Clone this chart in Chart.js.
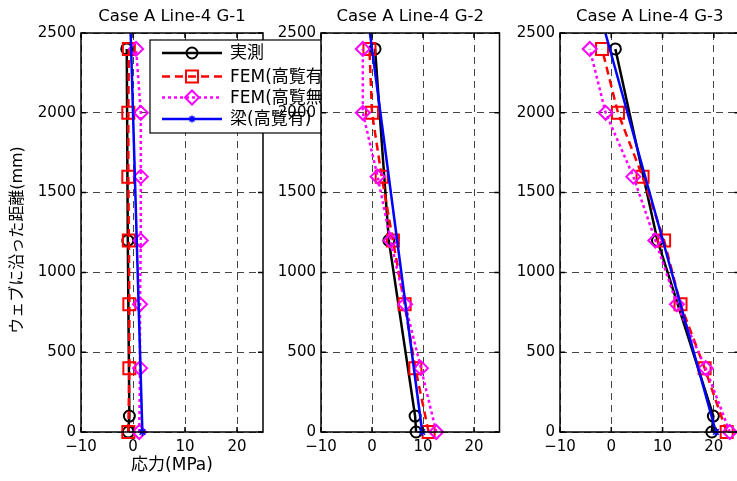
<!DOCTYPE html>
<html>
<head>
<meta charset="utf-8">
<script src="https://cdn.jsdelivr.net/npm/chart.js@4/dist/chart.umd.min.js"></script>
<style>
  html, body { margin: 0; padding: 0; background: #fff; overflow: hidden; }
  #wrap { position: relative; width: 737px; height: 481px; overflow: hidden; }
  #wrap canvas { position: absolute; top: 0; }
</style>
</head>
<body>
<div id="wrap">
  <canvas id="g1" width="345" height="481" style="left:0px"></canvas>
  <canvas id="g2" width="260" height="481" style="left:250px"></canvas>
  <canvas id="g3" width="260" height="481" style="left:490px"></canvas>
</div>
<script>
// ---- data ----
const panelTitles = ['Case A Line-4 G-1', 'Case A Line-4 G-2', 'Case A Line-4 G-3'];
const seriesNames = ['実測', 'FEM(高覧有)', 'FEM(高覧無)', '梁(高覧有)'];
const xAxisTitle = '応力(MPa)';
const yAxisTitle = 'ウェブに沿った距離(mm)';
const xTickValues = [-10, 0, 10, 20];
const yTickValues = [0, 500, 1000, 1500, 2000, 2500];

// heights along the web (mm)
const heightsMeasured = [0, 100, 1200, 2400];
const heightsFem = [0, 400, 800, 1200, 1600, 2000, 2400];
const heightsBeam = [0, 2500];

// stress (MPa), G-1
const measuredG1 = [-0.9, -0.7, -1.0, -1.2];
const femWithG1 = [-0.9, -0.7, -0.7, -0.8, -0.9, -0.9, -0.8];
const femWithoutG1 = [1.2, 1.35, 1.35, 1.5, 1.5, 1.5, 0.6];
const beamG1 = [1.8, -0.45];

// stress (MPa), G-2
const measuredG2 = [8.65, 8.45, 3.3, 0.6];
const femWithG2 = [11.1, 8.5, 6.4, 4.1, 1.9, 0.0, -0.5];
const femWithoutG2 = [12.6, 9.6, 6.5, 3.65, 1.1, -1.8, -1.8];
const beamG2 = [9.85, -0.4];

// stress (MPa), G-3
const measuredG3 = [19.6, 19.9, 9.0, 0.8];
const femWithG3 = [22.5, 18.2, 13.5, 10.3, 6.1, 1.3, -1.8];
const femWithoutG3 = [23.1, 18.4, 12.8, 8.6, 4.3, -1.1, -4.2];
const beamG3 = [20.4, -1.15];

// ---- styles ----
const FONT = '"DejaVu Sans", "Noto Sans CJK JP", sans-serif';
const seriesStyles = [
  { color: '#000000', dash: [],     pointStyle: 'circle',  radius: 5.5, width: 2.5, pointWidth: 2 },
  { color: '#ff0000', dash: [8, 5], pointStyle: 'rect',    radius: 8.5, width: 2.5, pointWidth: 2 },
  { color: '#ff00ff', dash: [3, 3], pointStyle: 'rectRot', radius: 7,   width: 2.5, pointWidth: 2 },
  { color: '#0000ff', dash: [],     pointStyle: 'star',    radius: 4,   width: 2.5, pointWidth: 1.5 }
];

Chart.defaults.font.family = FONT;
Chart.defaults.color = '#000';

function fmt(v) { return String(v).replace('-', '\u2212'); }

function panelDatasets(measured, femWith, femWithout, beam) {
  const cols = [[heightsMeasured, measured], [heightsFem, femWith], [heightsFem, femWithout], [heightsBeam, beam]];
  return cols.map(([hs, xs], k) => {
    const st = seriesStyles[k];
    return {
      label: seriesNames[k],
      data: hs.map((h, i) => ({ x: xs[i], y: h })),
      showLine: true,
      tension: 0,
      borderColor: st.color,
      backgroundColor: 'rgba(0,0,0,0)',
      borderWidth: st.width,
      borderDash: st.dash,
      pointStyle: st.pointStyle,
      pointRadius: k === 3 ? hs.map(h => (h === 0 ? st.radius : 0)) : st.radius,
      pointBorderWidth: st.pointWidth,
      pointBorderColor: st.color,
      pointBackgroundColor: 'rgba(0,0,0,0)',
      order: 3 - k,
      clip: false
    };
  });
}

// white plot area, solid frame and inward tick marks
const framePlugin = {
  id: 'frame',
  beforeDraw(chart) {
    const { ctx, chartArea: a } = chart;
    ctx.save();
    ctx.fillStyle = '#fff';
    ctx.fillRect(a.left, a.top, a.right - a.left, a.bottom - a.top);
    ctx.restore();
  },
  afterDatasetsDraw(chart) {
    const { ctx, chartArea: a, scales } = chart;
    ctx.save();
    ctx.strokeStyle = '#000';
    ctx.lineWidth = 1.5;
    ctx.setLineDash([]);
    ctx.beginPath();
    xTickValues.forEach(v => {
      const px = scales.x.getPixelForValue(v);
      ctx.moveTo(px, a.bottom); ctx.lineTo(px, a.bottom - 5);
      ctx.moveTo(px, a.top); ctx.lineTo(px, a.top + 5);
    });
    yTickValues.forEach(v => {
      const py = scales.y.getPixelForValue(v);
      ctx.moveTo(a.left, py); ctx.lineTo(a.left + 5, py);
      ctx.moveTo(a.right, py); ctx.lineTo(a.right - 5, py);
    });
    ctx.stroke();
    ctx.strokeRect(a.left, a.top, a.right - a.left, a.bottom - a.top);
    ctx.restore();
  }
};

// boxed legend and the vertical axis caption of the first panel
const legendBoxPlugin = {
  id: 'legendBox',
  afterDraw(chart) {
    const ctx = chart.ctx;

    ctx.save();
    ctx.translate(17.5, 240);
    ctx.rotate(-Math.PI / 2);
    ctx.fillStyle = '#000';
    ctx.font = '16px ' + FONT;
    ctx.textAlign = 'center';
    ctx.textBaseline = 'middle';
    ctx.fillText(yAxisTitle, 0, 0);
    ctx.restore();

    const left = 150, top = 40, w = 190, h = 93;
    ctx.save();
    ctx.fillStyle = '#fff';
    ctx.fillRect(left, top, w, h);
    ctx.strokeStyle = '#000';
    ctx.lineWidth = 1.2;
    ctx.setLineDash([]);
    ctx.strokeRect(left, top, w, h);
    const rows = [53, 76.5, 97.5, 119];
    seriesStyles.forEach((st, k) => {
      const y = rows[k];
      ctx.save();
      ctx.strokeStyle = st.color;
      ctx.lineWidth = st.width;
      ctx.setLineDash(st.dash);
      ctx.beginPath();
      ctx.moveTo(162, y); ctx.lineTo(222, y);
      ctx.stroke();
      ctx.setLineDash([]);
      ctx.lineWidth = st.pointWidth;
      ctx.fillStyle = 'rgba(0,0,0,0)';
      Chart.helpers.drawPoint(ctx, { pointStyle: st.pointStyle, radius: k === 3 ? 3.5 : st.radius, rotation: 0, borderWidth: st.pointWidth }, 192, y);
      ctx.restore();
      ctx.fillStyle = '#000';
      ctx.font = '17px ' + FONT;
      ctx.textBaseline = 'middle';
      ctx.textAlign = 'left';
      ctx.fillText(seriesNames[k], 230, y + 1);
    });
    ctx.restore();
  }
};

function makePanel(id, idx, datasets, yWidth, padRight, first) {
  const plugins = [framePlugin];
  if (first) plugins.push(legendBoxPlugin);
  return new Chart(document.getElementById(id), {
    type: 'scatter',
    data: { datasets },
    plugins,
    options: {
      responsive: false,
      devicePixelRatio: 1,
      animation: false,
      events: [],
      layout: { padding: { left: 0, top: 0, right: padRight, bottom: 0 } },
      plugins: {
        legend: { display: false },
        tooltip: { enabled: false },
        title: {
          display: true,
          text: panelTitles[idx],
          fullSize: false,
          color: '#000',
          font: { size: 16.5, weight: 'normal', family: FONT },
          padding: { top: 7, bottom: 6.2 }
        }
      },
      scales: {
        x: {
          type: 'linear',
          min: -10, max: 25,
          afterBuildTicks: s => { s.ticks = xTickValues.map(v => ({ value: v })); },
          afterFit: s => { s.height = 49; },
          grid: { color: '#444', lineWidth: 1, drawTicks: false },
          border: { display: false, dash: [7, 5] },
          ticks: { padding: 6, color: '#000', font: { size: 15 }, callback: v => fmt(v), maxRotation: 0, autoSkip: false },
          title: {
            display: first,
            text: xAxisTitle,
            color: '#000',
            font: { size: 17 },
            padding: { top: 0, bottom: 5 }
          }
        },
        y: {
          type: 'linear',
          min: 0, max: 2500,
          afterBuildTicks: s => { s.ticks = yTickValues.map(v => ({ value: v })); },
          afterFit: s => { s.width = yWidth; },
          grid: { color: '#444', lineWidth: 1, drawTicks: false },
          border: { display: false, dash: [7, 5] },
          ticks: { padding: 5, color: '#000', font: { size: 15 }, callback: v => fmt(v), autoSkip: false }
        }
      }
    }
  });
}

makePanel('g1', 0, panelDatasets(measuredG1, femWithG1, femWithoutG1, beamG1), 81, 82, true);
makePanel('g2', 1, panelDatasets(measuredG2, femWithG2, femWithoutG2, beamG2), 71, 7, false);
makePanel('g3', 2, panelDatasets(measuredG3, femWithG3, femWithoutG3, beamG3), 70, 8, false);
</script>
</body>
</html>
